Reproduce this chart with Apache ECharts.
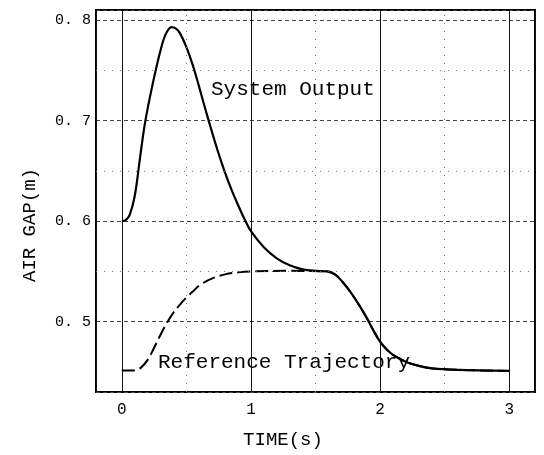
<!DOCTYPE html>
<html>
<head>
<meta charset="utf-8">
<script src="https://cdn.jsdelivr.net/npm/echarts@6/dist/echarts.min.js"></script>
<style>
html,body{margin:0;padding:0;background:#fff;}
#chart{width:544px;height:455px;}
</style>
</head>
<body>
<div id="chart"></div>
<script>
// ---- data ----
const sysTime = [0, 0.03, 0.06, 0.1, 0.14, 0.18, 0.24, 0.3, 0.34, 0.385, 0.42, 0.45, 0.5, 0.55, 0.6, 0.65, 0.7, 0.75, 0.8, 0.85, 0.9, 0.95, 1.0, 1.1, 1.2, 1.3, 1.4, 1.5, 1.59, 1.65, 1.7, 1.75, 1.8, 1.85, 1.9, 1.95, 2.0, 2.05, 2.1, 2.2, 2.3, 2.4, 2.6, 3.0];
const sysValue = [0.600, 0.601, 0.606, 0.625, 0.662, 0.698, 0.737, 0.770, 0.786, 0.793, 0.7915, 0.787, 0.773, 0.755, 0.733, 0.710, 0.688, 0.667, 0.648, 0.631, 0.616, 0.602, 0.590, 0.574, 0.563, 0.556, 0.552, 0.5505, 0.550, 0.547, 0.541, 0.533, 0.524, 0.514, 0.503, 0.491, 0.480, 0.4725, 0.467, 0.460, 0.456, 0.4535, 0.452, 0.451];
const refTime = [0, 0.1, 0.15, 0.2, 0.25, 0.3, 0.35, 0.4, 0.45, 0.5, 0.55, 0.6, 0.7, 0.8, 0.9, 1.0, 1.3, 1.59, 1.65, 1.7, 1.75, 1.8, 1.85, 1.9, 1.95, 2.0, 2.05, 2.1, 2.2, 2.3, 2.4, 2.6, 3.0];
const refValue = [0.4515, 0.4515, 0.4545, 0.462, 0.474, 0.487, 0.499, 0.509, 0.517, 0.524, 0.530, 0.536, 0.543, 0.547, 0.549, 0.550, 0.5505, 0.550, 0.547, 0.541, 0.533, 0.524, 0.514, 0.503, 0.491, 0.480, 0.4725, 0.467, 0.460, 0.456, 0.4535, 0.452, 0.451];
const minorGridX = [0.5, 1.5, 2.5];
const minorGridY = [0.55, 0.65, 0.75];
const seriesNames = ['System Output', 'Reference Trajectory'];
const axisTitles = { x: 'TIME(s)', y: 'AIR GAP(m)' };

const zip = (a, b) => a.map((v, i) => [v, b[i]]);
const MONO = '"Liberation Mono", "DejaVu Sans Mono", monospace';

const chart = echarts.init(document.getElementById('chart'), null, { renderer: 'canvas' });
chart.setOption({
  animation: false,
  backgroundColor: '#fff',
  grid: { left: 96, right: 9, top: 10, bottom: 63, show: true, borderColor: '#000', borderWidth: 2, backgroundColor: 'transparent' },
  xAxis: {
    type: 'value', min: -0.2, max: 3.2, splitNumber: 3, minInterval: 1, maxInterval: 1,
    axisLine: { show: false }, axisTick: { show: false },
    axisLabel: { showMinLabel: false, showMaxLabel: false, margin: 10, color: '#000', fontFamily: MONO, fontSize: 16 },
    splitLine: { show: true, lineStyle: { color: '#111', width: 1, type: 'solid' } }
  },
  yAxis: {
    type: 'value', min: 0.43, max: 0.81, splitNumber: 4, minInterval: 0.1, maxInterval: 0.1,
    axisLine: { show: false }, axisTick: { show: false },
    axisLabel: { showMinLabel: false, showMaxLabel: false, margin: 5, color: '#000', fontFamily: MONO, fontSize: 15,
      formatter: v => v.toFixed(1).replace('.', '. ') },
    splitLine: { show: true, lineStyle: { color: '#444', width: 1, type: [4, 3] } }
  },
  series: [
    {
      name: seriesNames[1], type: 'line', data: zip(refTime, refValue), smooth: 0.35, symbol: 'none',
      lineStyle: { color: '#000', width: 2, type: [13, 5] }, z: 3,
      markLine: {
        silent: true, symbol: 'none', label: { show: false },
        lineStyle: { color: '#777', width: 1, type: [1, 7] },
        data: minorGridX.map(v => ({ xAxis: v })).concat(minorGridY.map(v => ({ yAxis: v })))
      }
    },
    {
      name: seriesNames[0], type: 'line', data: zip(sysTime, sysValue), smooth: 0.35, symbol: 'none',
      lineStyle: { color: '#000', width: 2.2, type: 'solid' }, z: 4
    }
  ],
  graphic: [
    { type: 'text', left: 211, top: 79, style: { text: seriesNames[0], font: '21px ' + MONO, fill: '#000' } },
    { type: 'text', left: 158, top: 352, style: { text: seriesNames[1], font: '21px ' + MONO, fill: '#000' } },
    { type: 'text', x: 283, y: 440, style: { text: axisTitles.x, font: '19px ' + MONO, fill: '#000', align: 'center', verticalAlign: 'middle' } },
    { type: 'text', x: 30, y: 225, rotation: Math.PI / 2, style: { text: axisTitles.y, font: '19px ' + MONO, fill: '#000', align: 'center', verticalAlign: 'middle' } }
  ]
});
</script>
</body>
</html>
